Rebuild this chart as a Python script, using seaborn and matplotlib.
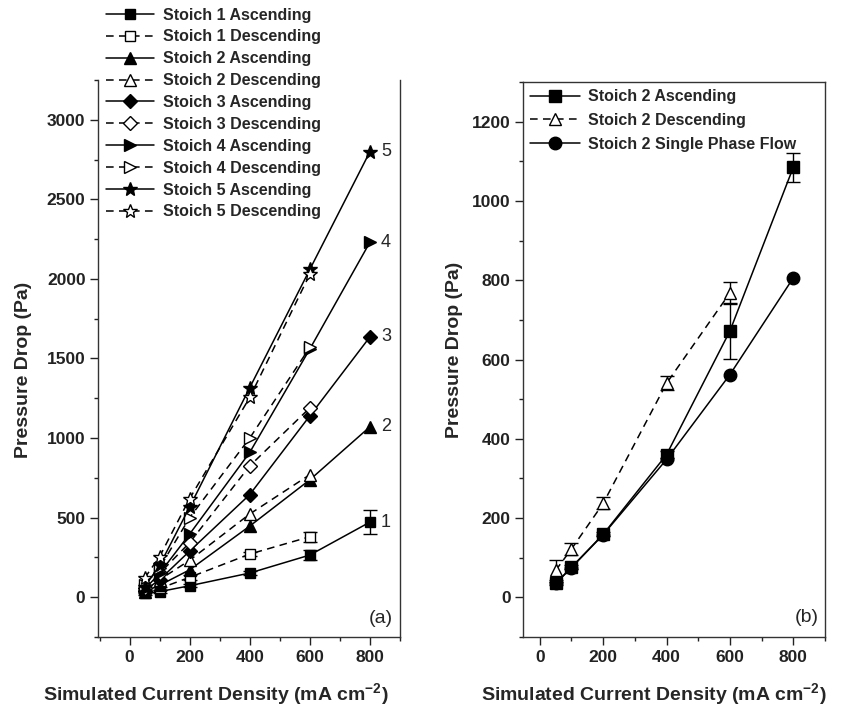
import matplotlib
matplotlib.use("Agg")
import matplotlib.pyplot as plt
import seaborn as sns
import pandas as pd
from matplotlib.ticker import MultipleLocator

# ---------------- data ----------------
x_asc = [50, 100, 200, 400, 600, 800]
x_desc = [50, 100, 200, 400, 600]

s1_asc = [25, 35, 72, 152, 265, 472]
s1_asc_err = [8, 8, 10, 10, 30, 75]
s1_desc = [35, 55, 125, 271, 380]
s1_desc_err = [8, 8, 15, 15, 30]
s2_asc = [35, 75, 172, 447, 738, 1071]
s2_desc = [50, 110, 232, 523, 770]
s3_asc = [42, 110, 290, 645, 1140, 1636]
s3_desc = [60, 150, 343, 825, 1190]
s4_asc = [50, 150, 397, 910, 1560, 2231]
s4_desc = [75, 185, 500, 1000, 1570]
s5_asc = [65, 200, 567, 1317, 2060, 2800]
s5_desc = [120, 255, 620, 1255, 2030]

b_x = [50, 100, 200, 400, 600, 800]
b_xd = [50, 100, 200, 400, 600]
b_asc = [35, 76, 159, 360, 672, 1085]
b_asc_err = [5, 5, 5, 8, 70, 37]
b_desc = [68, 122, 237, 540, 768]
b_desc_err = [25, 15, 15, 18, 28]
b_single = [35, 75, 158, 348, 562, 806]

curve_labels = ["1", "2", "3", "4", "5"]

# ---------------- style ----------------
sns.set_theme(style="ticks")
plt.rcParams["font.family"] = ["Liberation Sans", "DejaVu Sans"]
plt.rcParams["font.weight"] = "bold"
plt.rcParams["axes.labelweight"] = "bold"
plt.rcParams["mathtext.fontset"] = "custom"
plt.rcParams["mathtext.rm"] = "Liberation Sans:bold"
plt.rcParams["mathtext.bf"] = "Liberation Sans:bold"
plt.rcParams["mathtext.default"] = "bf"

fig = plt.figure(figsize=(8.56, 7.12), dpi=100)
axa = fig.add_axes([98 / 856, 75 / 712, 302 / 856, 557 / 712])
axb = fig.add_axes([523 / 856, 75 / 712, 302 / 856, 555 / 712])

dash = (0, (5, 3.5))


def series(ax, xs, ys, label, marker, filled, dashed, ms, err=None):
    df = pd.DataFrame({"x": xs, "y": ys})
    if err is not None:
        ax.errorbar(xs, ys, yerr=err, fmt="none", ecolor="black",
                    elinewidth=1.0, capsize=5, capthick=1.0, zorder=1.5)
    sns.lineplot(data=df, x="x", y="y", ax=ax, color="black", lw=1.1,
                 linestyle=dash if dashed else "-", marker=marker,
                 markersize=ms,
                 markerfacecolor="black" if filled else "white",
                 markeredgecolor="black", markeredgewidth=1.0,
                 label=label, errorbar=None, sort=False, zorder=2)


# ---------------- panel (a) ----------------
series(axa, x_asc, s1_asc, "Stoich 1 Ascending", "s", True, False, 7.5, s1_asc_err)
series(axa, x_desc, s1_desc, "Stoich 1 Descending", "s", False, True, 7.5, s1_desc_err)
series(axa, x_asc, s2_asc, "Stoich 2 Ascending", "^", True, False, 8.5)
series(axa, x_desc, s2_desc, "Stoich 2 Descending", "^", False, True, 8.5)
series(axa, x_asc, s3_asc, "Stoich 3 Ascending", "D", True, False, 7)
series(axa, x_desc, s3_desc, "Stoich 3 Descending", "D", False, True, 7)
series(axa, x_asc, s4_asc, "Stoich 4 Ascending", ">", True, False, 9)
series(axa, x_desc, s4_desc, "Stoich 4 Descending", ">", False, True, 9)
series(axa, x_asc, s5_asc, "Stoich 5 Ascending", "*", True, False, 10.5)
series(axa, x_desc, s5_desc, "Stoich 5 Descending", "*", False, True, 10.5)

ends = [s1_asc[-1], s2_asc[-1], s3_asc[-1], s4_asc[-1], s5_asc[-1]]
for lab, yv in zip(curve_labels, ends):
    axa.annotate(lab, (x_asc[-1], yv), xytext=(8, 0), textcoords="offset points",
                 ha="left", va="center", fontsize=13, fontweight="normal")

axa.set_xlim(-105, 900)
axa.set_ylim(-250, 3250)
axa.xaxis.set_major_locator(MultipleLocator(200))
axa.xaxis.set_minor_locator(MultipleLocator(100))
axa.yaxis.set_major_locator(MultipleLocator(500))
axa.yaxis.set_minor_locator(MultipleLocator(250))
axa.text(0.975, 0.018, "(a)", transform=axa.transAxes, ha="right", va="bottom",
         fontsize=14, fontweight="normal")

leg_a = axa.legend(loc="upper left", bbox_to_anchor=(104 / 856, 1 - 6 / 712),
                   bbox_transform=fig.transFigure, frameon=True, framealpha=1,
                   edgecolor="white", fancybox=False,
                   prop={"size": 11.5, "weight": "bold"}, handlelength=3.0,
                   handletextpad=0.6, labelspacing=0.43, borderpad=0.1,
                   borderaxespad=0, numpoints=1)

# ---------------- panel (b) ----------------
series(axb, b_x, b_asc, "Stoich 2 Ascending", "s", True, False, 8, b_asc_err)
series(axb, b_xd, b_desc, "Stoich 2 Descending", "^", False, True, 9, b_desc_err)
series(axb, b_x, b_single, "Stoich 2 Single Phase Flow", "o", True, False, 9)

axb.set_xlim(-53, 900)
axb.set_ylim(-100, 1300)
axb.xaxis.set_major_locator(MultipleLocator(200))
axb.xaxis.set_minor_locator(MultipleLocator(100))
axb.yaxis.set_major_locator(MultipleLocator(200))
axb.yaxis.set_minor_locator(MultipleLocator(100))
axb.text(0.978, 0.02, "(b)", transform=axb.transAxes, ha="right", va="bottom",
         fontsize=14, fontweight="normal")
axb.legend(loc="upper left", bbox_to_anchor=(0.0, 1.0), frameon=False,
           prop={"size": 11.5, "weight": "bold"}, handlelength=3.1,
           handletextpad=0.55, labelspacing=0.55, borderpad=0.35,
           borderaxespad=0.1, numpoints=1)

# ---------------- common axis styling ----------------
xlabel = r"Simulated Current Density (mA cm$^{-2}$)"
for ax in (axa, axb):
    ax.set_xlabel(xlabel, fontsize=14, fontweight="bold")
    ax.set_ylabel("Pressure Drop (Pa)", fontsize=14, fontweight="bold")
    ax.tick_params(which="major", direction="out", length=5.5, width=1.0,
                   labelsize=12.5, colors="#222222")
    ax.tick_params(which="minor", direction="out", length=3, width=1.0,
                   colors="#222222")
    for lbl in ax.get_xticklabels() + ax.get_yticklabels():
        lbl.set_fontweight("bold")
    for sp in ax.spines.values():
        sp.set_linewidth(1.0)
        sp.set_color("#333333")
    ax.spines["right"].set_visible(True)
    ax.spines["top"].set_visible(True)
axa.spines["top"].set_visible(False)

axa.xaxis.set_label_coords(0.39, -0.08)
axb.xaxis.set_label_coords(0.434, -0.08)
axa.yaxis.set_label_coords(-0.219, 0.479)
axb.yaxis.set_label_coords(-0.20, 0.517)

fig.savefig("out.png", dpi=100)
